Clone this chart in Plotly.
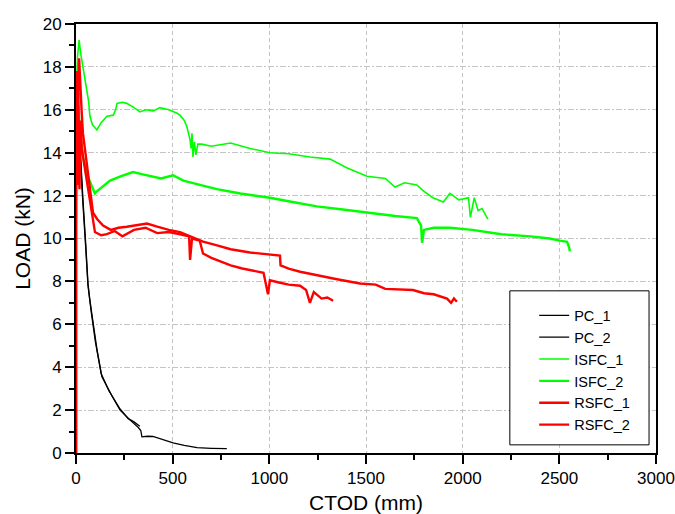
import plotly.graph_objects as go

# ---- data ----
pc1_x = [0, 0, 3, 8, 15, 25, 36, 50, 62, 72, 90, 109, 134, 160, 190, 228, 260, 290, 321, 335, 341, 370, 398, 450, 502, 560, 626, 700, 780]
pc1_y = [0, 15, 17.2, 16.5, 15.2, 13.5, 11.8, 9.8, 7.9, 7.1, 5.9, 4.8, 3.55, 3.1, 2.6, 2.0, 1.7, 1.45, 1.2, 1.05, 0.75, 0.78, 0.77, 0.62, 0.47, 0.36, 0.25, 0.22, 0.2]

pc2_x = [0, 0, 3, 8, 15, 25, 36, 50, 62, 80, 100, 130, 170, 228, 270, 300, 330]
pc2_y = [0, 14, 16.8, 16, 14.8, 13.2, 11.6, 9.6, 7.8, 6.5, 5.2, 3.7, 2.9, 2.05, 1.6, 1.45, 1.25]

isfc1_x = [0, 0, 8, 16, 25, 36, 50, 57, 65, 72, 85, 108, 130, 160, 193, 205, 212, 240, 263, 300, 331, 360, 400, 434, 480, 520, 538, 560, 574, 590, 595, 600, 605, 612, 620, 630, 650, 700, 800, 900, 1003, 1100, 1210, 1314, 1400, 1505, 1600, 1650, 1700, 1763, 1800, 1846, 1900, 1934, 1980, 2030, 2040, 2060, 2080, 2100, 2130]
isfc1_y = [0, 16.5, 18.5, 19.25, 18.6, 18.0, 17.2, 16.7, 16.4, 15.7, 15.3, 15.06, 15.4, 15.7, 15.75, 16.0, 16.3, 16.35, 16.3, 16.1, 15.9, 16.0, 15.95, 16.1, 16.0, 15.85, 15.75, 15.5, 15.2, 14.6, 14.2, 14.9, 13.8, 14.5, 13.9, 14.4, 14.4, 14.3, 14.45, 14.2, 14.0, 13.95, 13.8, 13.7, 13.3, 12.9, 12.8, 12.4, 12.6, 12.5, 12.2, 11.9, 11.7, 12.1, 11.8, 11.9, 11.0, 11.9, 11.3, 11.4, 10.9]

isfc2_x = [0, 0, 5, 12, 20, 36, 60, 80, 98, 108, 140, 176, 230, 295, 340, 383, 440, 502, 555, 641, 729, 850, 1003, 1120, 1246, 1380, 1505, 1650, 1763, 1785, 1790, 1800, 1850, 1934, 2050, 2200, 2350, 2450, 2503, 2540, 2550, 2555]
isfc2_y = [0, 13, 15.5, 16.2, 15.0, 13.8, 12.9, 12.5, 12.1, 12.2, 12.45, 12.7, 12.9, 13.1, 13.0, 12.9, 12.8, 12.95, 12.7, 12.5, 12.3, 12.1, 11.9, 11.7, 11.5, 11.35, 11.2, 11.05, 10.95, 10.6, 9.8, 10.4, 10.5, 10.5, 10.4, 10.2, 10.1, 10.0, 9.9, 9.85, 9.6, 9.4]

rsfc1_x = [0, 0, 5, 10, 16, 22, 30, 36, 50, 72, 88, 110, 140, 180, 220, 263, 300, 367, 420, 480, 538, 600, 657, 720, 800, 900, 1000, 1055, 1058, 1100, 1159, 1250, 1350, 1469, 1550, 1600, 1743, 1800, 1850, 1919, 1940, 1955, 1970]
rsfc1_y = [0, 17, 17.8, 16.5, 18.4, 17.0, 15.8, 14.9, 13.9, 12.4, 11.2, 10.9, 10.6, 10.4, 10.5, 10.55, 10.6, 10.7, 10.55, 10.4, 10.3, 10.05, 9.85, 9.7, 9.5, 9.35, 9.25, 9.2, 8.75, 8.6, 8.45, 8.3, 8.1, 7.9, 7.85, 7.65, 7.6, 7.45, 7.4, 7.2, 7.0, 7.2, 7.05]

rsfc2_x = [0, 0, 4, 8, 12, 18, 24, 30, 40, 55, 75, 98, 130, 160, 200, 240, 300, 360, 420, 480, 538, 585, 590, 600, 640, 657, 700, 760, 800, 860, 952, 970, 993, 1003, 1050, 1100, 1159, 1190, 1210, 1230, 1270, 1300, 1330]
rsfc2_y = [0, 16.5, 17.2, 12.5, 16.8, 12.3, 15.5, 14.2, 13.6, 12.8, 11.6, 10.3, 10.15, 10.2, 10.35, 10.1, 10.4, 10.5, 10.25, 10.3, 10.2, 10.1, 9.0, 10.0, 9.9, 9.3, 9.1, 8.9, 8.75, 8.6, 8.45, 8.4, 7.4, 8.05, 7.95, 7.85, 7.8, 7.6, 7.0, 7.5, 7.2, 7.25, 7.1]

x_ticks = [0, 500, 1000, 1500, 2000, 2500, 3000]
y_ticks = [0, 2, 4, 6, 8, 10, 12, 14, 16, 18, 20]

series = [
    ("PC_1", pc1_x, pc1_y, "#000000", 1.3),
    ("PC_2", pc2_x, pc2_y, "#000000", 1.3),
    ("ISFC_1", isfc1_x, isfc1_y, "#00FF00", 1.6),
    ("ISFC_2", isfc2_x, isfc2_y, "#00FF00", 2.4),
    ("RSFC_1", rsfc1_x, rsfc1_y, "#FF0000", 2.4),
    ("RSFC_2", rsfc2_x, rsfc2_y, "#FF0000", 2.4),
]

fig = go.Figure()
for name, xs, ys, col, w in series:
    fig.add_trace(go.Scatter(x=xs, y=ys, mode="lines", name=name,
                             line=dict(color=col, width=w)))

font_family = "Liberation Sans, Arial, sans-serif"
fig.update_layout(
    width=675, height=514,
    margin=dict(l=76, r=19, t=24, b=61, autoexpand=False),
    plot_bgcolor="white", paper_bgcolor="white",
    font=dict(family=font_family, size=17, color="black"),
    legend=dict(x=0.79, y=0.358, xanchor="left", yanchor="top",
                bgcolor="rgba(0,0,0,0)", borderwidth=0,
                font=dict(size=14.5, family=font_family),
                tracegroupgap=0),
    showlegend=True,
    shapes=[dict(type="rect", xref="paper", yref="paper",
                 x0=0.748, x1=0.988, y0=0.019, y1=0.378,
                 fillcolor="white", line=dict(color="black", width=1),
                 layer="above")],
)
fig.update_xaxes(
    range=[0, 3000], tickvals=x_ticks, automargin=False,
    ticks="outside", ticklen=9, tickwidth=1.5, tickcolor="black",
    minor=dict(tickvals=[250, 750, 1250, 1750, 2250, 2750], ticks="outside", ticklen=5, tickwidth=1.5, tickcolor="black", showgrid=False),
    showline=True, linecolor="black", linewidth=2, mirror=True,
    showgrid=True, gridcolor="#c4c4c4", gridwidth=1, griddash="4px,3px",
    zeroline=False,
    title=dict(text="CTOD (mm)", font=dict(size=21), standoff=8),
    tickfont=dict(size=17),
)
fig.update_yaxes(
    range=[0, 20], tickvals=y_ticks, automargin=False,
    ticks="outside", ticklen=9, tickwidth=1.5, tickcolor="black",
    minor=dict(tickvals=list(range(1, 20, 2)), ticks="outside", ticklen=5, tickwidth=1.5, tickcolor="black", showgrid=False),
    showline=True, linecolor="black", linewidth=2, mirror=True,
    showgrid=True, gridcolor="#c4c4c4", gridwidth=1, griddash="6px,2px,2px,2px",
    zeroline=False,
    title=dict(text="LOAD (kN)", font=dict(size=21), standoff=6),
    tickfont=dict(size=17),
)
fig.write_html(
    "out.html",
    config={"displayModeBar": False},
    post_script="document.body.style.margin='0';document.body.style.overflow='hidden';",
)
